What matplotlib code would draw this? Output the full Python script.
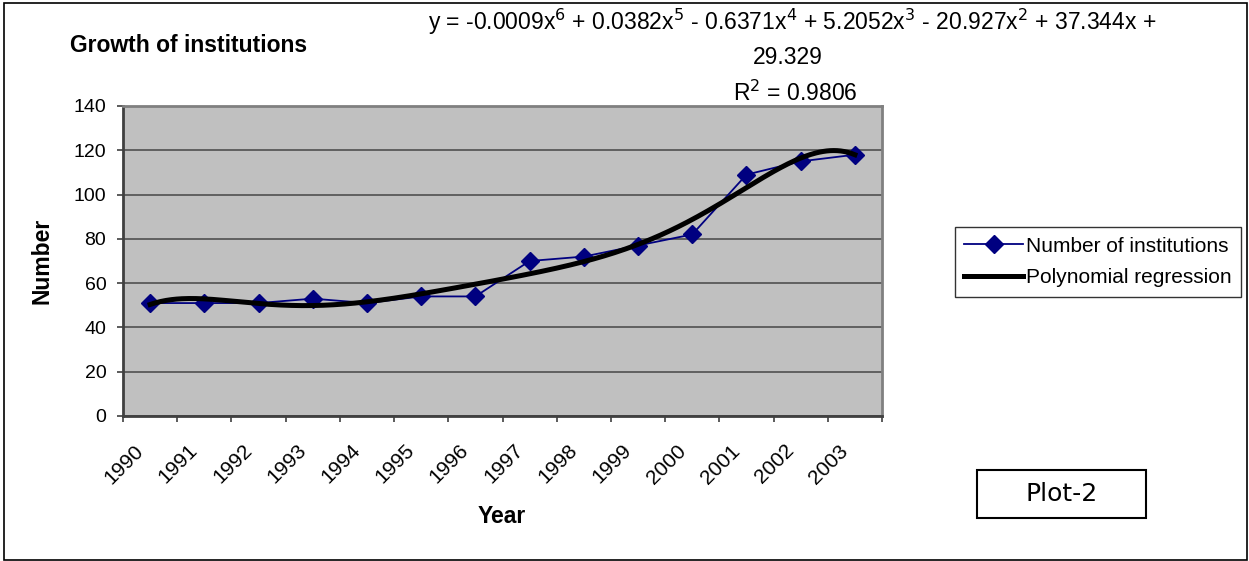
import numpy as np
import matplotlib
matplotlib.use("Agg")
import matplotlib.pyplot as plt
from matplotlib.patches import Rectangle

years = ["1990", "1991", "1992", "1993", "1994", "1995", "1996",
         "1997", "1998", "1999", "2000", "2001", "2002", "2003"]
institutions = [51, 51, 51, 53, 51, 54, 54, 70, 72, 77, 82, 109, 115, 118]

plt.rcParams['font.family'] = ['Liberation Sans', 'DejaVu Sans']

W, H = 1249, 561
fig = plt.figure(figsize=(W / 100, H / 100), dpi=100)
fig.patch.set_facecolor('white')

ax = fig.add_axes([123 / W, 1 - 416 / H, (882 - 123) / W, (416 - 106) / H])
ax.set_facecolor('#C0C0C0')

x = np.arange(len(years))
y = np.array(institutions, dtype=float)

# polynomial (order 6) trendline fitted on category index 1..n, like Excel
xi = x + 1
coef = np.polyfit(xi, y, 6)
xf = np.linspace(1, len(years), 400)
yf = np.polyval(coef, xf)

ax.plot(x, y, color='#000080', lw=1.3, marker='D', markersize=9,
        markerfacecolor='#000080', markeredgecolor='#000080',
        label='Number of institutions', zorder=3)
ax.plot(xf - 1, yf, color='black', lw=3.6, label='Polynomial regression', zorder=4)

ax.set_xlim(-0.5, len(years) - 0.5)
ax.set_ylim(0, 140)
ax.set_yticks(np.arange(0, 141, 20))
ax.yaxis.grid(True, color='#505050', lw=1.2)
ax.set_axisbelow(True)

ax.set_xticks(np.arange(-0.5, len(years), 1.0))
ax.set_xticklabels([])
ax.set_xticks(x - 0.3, minor=True)
ax.set_xticklabels(years, minor=True, rotation=45, ha='right',
                   rotation_mode='anchor', fontsize=15)
ax.tick_params(axis='x', which='minor', length=0, pad=18)
ax.tick_params(axis='x', which='major', length=4.5, width=1.2, color='#404040', direction='out')
ax.tick_params(axis='y', length=4, width=1.2, color='#404040', labelsize=14, pad=8)

for s in ['left', 'bottom']:
    ax.spines[s].set_color('#404040')
    ax.spines[s].set_linewidth(2.0)
for s in ['top', 'right']:
    ax.spines[s].set_color('#808080')
    ax.spines[s].set_linewidth(2.0)

ax.set_ylabel('Number', fontsize=16.5, fontweight='bold')
ax.set_xlabel('Year', fontsize=16.5, fontweight='bold')
ax.xaxis.set_label_coords((502 - 123) / (882 - 123), -(505 - 416) / (416 - 106))
ax.yaxis.set_label_coords(-(123 - 53) / (882 - 123), (416 - 261) / (416 - 106))

fig.text(70 / W, 1 - 45 / H, 'Growth of institutions', fontsize=16.5,
         fontweight='bold', va='center', ha='left')

fig.text(792 / W, 1 - 22 / H,
         r'y = -0.0009x$^{6}$ + 0.0382x$^{5}$ - 0.6371x$^{4}$ + 5.2052x$^{3}$ - 20.927x$^{2}$ + 37.344x +',
         fontsize=16.5, ha='center', va='center')
fig.text(788 / W, 1 - 58 / H, '29.329', fontsize=16.5, ha='center', va='center')
fig.text(795 / W, 1 - 93 / H, r'R$^{2}$ = 0.9806', fontsize=16.5, ha='center', va='center')

leg = ax.legend(loc='center left', bbox_to_anchor=(955 / W, 1 - 262 / H),
                bbox_transform=fig.transFigure, fontsize=15, frameon=True,
                fancybox=False, edgecolor='black', handlelength=2.8,
                handletextpad=0.15, borderpad=0.45, labelspacing=0.6,
                borderaxespad=0)
leg.get_frame().set_linewidth(1.0)

fig.text((977 + 1146) / 2 / W, 1 - 494 / H, 'Plot-2', fontsize=18,
         family='DejaVu Sans', ha='center', va='center')
fig.patches.append(Rectangle((977 / W, 1 - 518 / H), (1146 - 977) / W, 48 / H,
                             transform=fig.transFigure, fill=False,
                             edgecolor='black', lw=1.5))
fig.patches.append(Rectangle((4 / W, 1 / H), (W - 6) / W, (H - 4) / H,
                             transform=fig.transFigure, fill=False,
                             edgecolor='black', lw=1.2))

fig.savefig('out.png', dpi=100)
